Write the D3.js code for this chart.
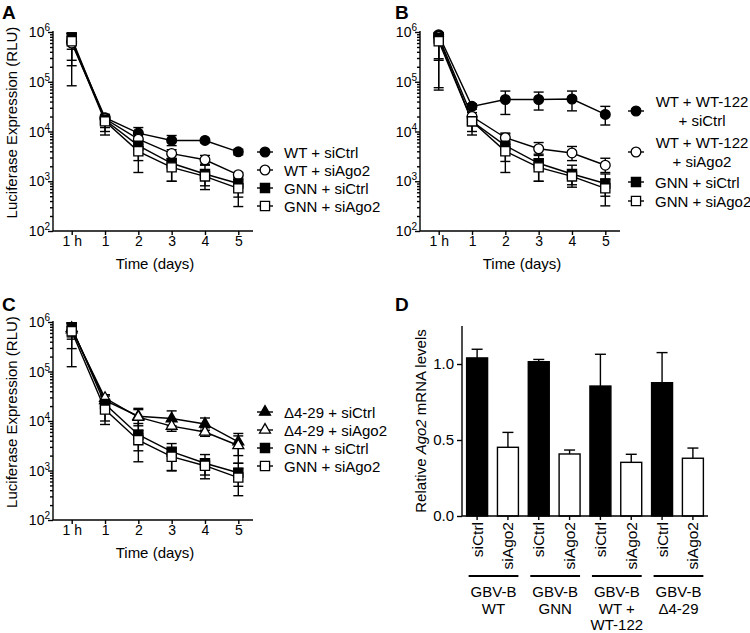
<!DOCTYPE html>
<html><head><meta charset="utf-8">
<script src="https://cdn.jsdelivr.net/npm/d3@7"></script>
<style>body{margin:0;background:#fff}</style>
</head><body><svg id="c" width="750" height="633" font-family="Liberation Sans, Arial, Helvetica, sans-serif"></svg>
<script>
// ---------- DATA ----------
const days = ["1 h", "1", "2", "3", "4", "5"];

// Panel A
const aWtSiCtrl    = [6.5e5, 1.9e4, 9.3e3, 6.6e3, 6.6e3, 3.9e3];
const aWtSiCtrlLo  = [4.5e5, 1.5e4, 7.0e3, 5.2e3, 6.0e3, 3.4e3];
const aWtSiCtrlHi  = [9.5e5, 2.2e4, 1.2e4, 8.3e3, 7.2e3, 4.4e3];
const aWtSiAgo2    = [6.0e5, 1.8e4, 7.0e3, 3.6e3, 2.7e3, 1.35e3];
const aWtSiAgo2Lo  = [8.3e4, 1.2e4, 5.0e3, 2.9e3, 2.2e3, 1.2e3];
const aWtSiAgo2Hi  = [9.5e5, 2.2e4, 9.0e3, 4.3e3, 3.3e3, 1.5e3];
const aGnnSiCtrl   = [7.5e5, 1.7e4, 5.2e3, 2.3e3, 1.4e3, 900];
const aGnnSiCtrlLo = [2.7e5, 8.5e3, 1.5e3, 1.0e3, 680, 480];
const aGnnSiCtrlHi = [9.5e5, 2.1e4, 8.9e3, 3.5e3, 2.1e3, 1.3e3];
const aGnnSiAgo2   = [6.5e5, 1.6e4, 4.0e3, 1.9e3, 1.25e3, 720];
const aGnnSiAgo2Lo = [2.1e5, 1.0e4, 2.6e3, 1.0e3, 810, 310];
const aGnnSiAgo2Hi = [9.5e5, 2.0e4, 5.5e3, 2.8e3, 1.7e3, 1.1e3];
const aLegend = ["WT + siCtrl", "WT + siAgo2", "GNN + siCtrl", "GNN + siAgo2"];

// Panel B
const bWtSiCtrl    = [8.8e5, 3.2e4, 4.4e4, 4.4e4, 4.5e4, 2.2e4];
const bWtSiCtrlLo  = [6.8e4, 2.8e4, 2.2e4, 2.7e4, 2.6e4, 1.35e4];
const bWtSiCtrlHi  = [9.8e5, 3.6e4, 6.5e4, 6.2e4, 6.5e4, 3.2e4];
const bWtSiAgo2    = [8.0e5, 2.0e4, 7.5e3, 4.5e3, 3.7e3, 2.1e3];
const bWtSiAgo2Lo  = [7.6e4, 1.6e4, 5.5e3, 3.3e3, 2.6e3, 1.5e3];
const bWtSiAgo2Hi  = [9.6e5, 2.4e4, 9.3e3, 6.0e3, 5.0e3, 2.9e3];
const bGnnSiCtrl   = [7.5e5, 1.6e4, 5.2e3, 2.3e3, 1.4e3, 900];
const bGnnSiCtrlLo = [2.7e5, 8.5e3, 1.5e3, 1.0e3, 760, 500];
const bGnnSiCtrlHi = [9.5e5, 2.0e4, 8.9e3, 3.5e3, 2.1e3, 1.4e3];
const bGnnSiAgo2   = [6.5e5, 1.6e4, 4.0e3, 1.9e3, 1.25e3, 720];
const bGnnSiAgo2Lo = [2.9e5, 1.0e4, 2.5e3, 1.0e3, 850, 320];
const bGnnSiAgo2Hi = [9.5e5, 2.0e4, 5.5e3, 2.8e3, 1.7e3, 1.1e3];
const bLegend = [["WT + WT-122", "+ siCtrl"], ["WT + WT-122", "+ siAgo2"], ["GNN + siCtrl"], ["GNN + siAgo2"]];

// Panel C
const cD429SiCtrl    = [7.5e5, 2.6e4, 1.25e4, 1.12e4, 8.7e3, 3.8e3];
const cD429SiCtrlLo  = [5.0e5, 2.0e4, 8.0e3, 8.0e3, 6.5e3, 2.0e3];
const cD429SiCtrlHi  = [9.5e5, 3.2e4, 1.8e4, 1.6e4, 1.15e4, 5.6e3];
const cD429SiAgo2    = [7.0e5, 2.9e4, 1.2e4, 7.9e3, 6.0e3, 3.2e3];
const cD429SiAgo2Lo  = [4.5e5, 2.4e4, 6.5e3, 6.2e3, 4.9e3, 1.4e3];
const cD429SiAgo2Hi  = [9.5e5, 3.4e4, 1.7e4, 1.0e4, 7.3e3, 5.0e3];
const cGnnSiCtrl     = [7.8e5, 2.2e4, 5.3e3, 2.4e3, 1.4e3, 900];
const cGnnSiCtrlLo   = [2.9e5, 1.0e4, 1.5e3, 1.0e3, 680, 480];
const cGnnSiCtrlHi   = [9.5e5, 2.6e4, 8.9e3, 3.5e3, 2.1e3, 1.4e3];
const cGnnSiAgo2     = [6.5e5, 1.7e4, 4.1e3, 1.9e3, 1.25e3, 720];
const cGnnSiAgo2Lo   = [1.25e5, 8.5e3, 2.5e3, 980, 810, 310];
const cGnnSiAgo2Hi   = [9.5e5, 2.1e4, 5.5e3, 2.8e3, 1.7e3, 1.1e3];
const cLegend = ["\u03944-29 + siCtrl", "\u03944-29 + siAgo2", "GNN + siCtrl", "GNN + siAgo2"];

// Panel D
const dConditions = ["siCtrl", "siAgo2", "siCtrl", "siAgo2", "siCtrl", "siAgo2", "siCtrl", "siAgo2"];
const dValues = [1.04, 0.452, 1.015, 0.408, 0.855, 0.353, 0.877, 0.38];
const dErrors = [0.057, 0.098, 0.015, 0.026, 0.209, 0.053, 0.198, 0.067];
const dGroups = [["GBV-B", "WT"], ["GBV-B", "GNN"], ["GBV-B", "WT +", "WT-122"], ["GBV-B", "\u03944-29"]];
const dYTicks = [0, 0.5, 1.0];

// ---------- DRAWING ----------
const svg = d3.select("#c");
const FONT_TICK = 14, FONT_LABEL = 15, SW = 1.4;

function marker(sel, shape, fill) {
  const sym = { circle: d3.symbolCircle, square: d3.symbolSquare, triangle: d3.symbolTriangle }[shape];
  const size = { circle: 74, square: 84, triangle: 52 }[shape];
  sel.append("path").attr("d", d3.symbol(sym, size)())
    .attr("fill", fill).attr("stroke", "#000").attr("stroke-width", 1.3);
}

function logPanel(P) {
  const g = svg.append("g");
  const x = d3.scalePoint().domain(days).range([P.x0 + 18.7, P.x0 + 185.3]);
  const y = d3.scaleLog().domain([1e2, 1e6]).range([P.yBot, P.yTop]);
  const majors = [1e2, 1e3, 1e4, 1e5, 1e6];
  const minors = [];
  [1e2, 1e3, 1e4, 1e5].forEach(d => { for (let k = 2; k <= 9; k++) minors.push(k * d); });

  g.append("g").attr("transform", `translate(${P.x0},0)`)
    .call(d3.axisLeft(y).tickValues(minors).tickSize(3).tickFormat(""))
    .call(a => a.select(".domain").remove());
  g.append("g").attr("transform", `translate(${P.x0},0)`)
    .call(d3.axisLeft(y).tickValues(majors).tickSize(5).tickFormat(""))
    .call(a => a.select(".domain").remove());
  g.selectAll(".tick line").attr("stroke-width", SW);
  const lab = g.append("g").selectAll("text").data(majors).join("text")
    .attr("x", P.x0 - 3).attr("y", d => y(d) + 5)
    .attr("text-anchor", "end").attr("font-size", FONT_TICK);
  lab.append("tspan").text("10");
  lab.append("tspan").attr("dy", -6).attr("font-size", 10).text(d => Math.round(Math.log10(d)));

  const xa = g.append("g").attr("transform", `translate(0,${P.yBot})`)
    .call(d3.axisBottom(x).tickSize(4).tickPadding(1).tickSizeOuter(0));
  xa.select(".domain").remove();
  xa.selectAll("text").attr("font-size", FONT_TICK).attr("font-family", null);
  xa.selectAll(".tick line").attr("stroke-width", SW);
  g.append("line").attr("x1", P.x0).attr("x2", P.x0).attr("y1", P.yTop - 1).attr("y2", P.yBot)
    .attr("stroke", "#000").attr("stroke-width", SW);
  g.append("line").attr("x1", P.x0).attr("x2", P.x0 + 200).attr("y1", P.yBot).attr("y2", P.yBot)
    .attr("stroke", "#000").attr("stroke-width", SW);

  g.append("text").attr("x", P.x0 + 102).attr("y", P.yBot + 38).attr("text-anchor", "middle")
    .attr("font-size", FONT_LABEL).text("Time (days)");
  if (P.ylabel) {
    g.append("text").attr("transform", `translate(${P.x0 - 36},${(P.yTop + P.yBot) / 2 - 9}) rotate(-90)`)
      .attr("text-anchor", "middle").attr("font-size", FONT_LABEL).text(P.ylabel);
  }

  const line = d3.line().x((d, i) => x(days[i])).y(d => y(d));
  P.series.forEach(s => {
    const eb = g.append("g").attr("stroke", "#000").attr("stroke-width", SW);
    s.values.forEach((v, i) => {
      const cx = x(days[i]);
      eb.append("line").attr("x1", cx).attr("x2", cx).attr("y1", y(s.lo[i])).attr("y2", y(s.hi[i]));
      eb.append("line").attr("x1", cx - 5).attr("x2", cx + 5).attr("y1", y(s.lo[i])).attr("y2", y(s.lo[i]));
      eb.append("line").attr("x1", cx - 5).attr("x2", cx + 5).attr("y1", y(s.hi[i])).attr("y2", y(s.hi[i]));
    });
  });
  P.series.forEach(s => {
    g.append("path").attr("d", line(s.values)).attr("fill", "none").attr("stroke", "#000").attr("stroke-width", SW);
  });
  P.series.forEach(s => {
    s.values.forEach((v, i) => {
      const m = g.append("g").attr("transform", `translate(${x(days[i])},${y(v)})`);
      marker(m, s.shape, s.fill);
    });
  });

  P.series.forEach((s, i) => {
    const L = P.legend[i];
    const lg = g.append("g").attr("transform", `translate(${L.x},${L.y})`);
    lg.append("line").attr("x1", -8).attr("x2", 8).attr("stroke", "#000").attr("stroke-width", SW);
    marker(lg, s.shape, s.fill);
    const lines = Array.isArray(s.label) ? s.label : [s.label];
    if (lines.length === 1) {
      lg.append("text").attr("x", L.tx).attr("y", 5.5).attr("font-size", FONT_LABEL).text(lines[0]);
    } else {
      lines.forEach((t, k) => lg.append("text").attr("x", L.tcx).attr("y", 5.5 + (k - 0.5) * 18.5)
        .attr("text-anchor", "middle").attr("font-size", FONT_LABEL).text(t));
    }
  });
}

const mk = (label, values, lo, hi, shape, fill) => ({ label, values, lo, hi, shape, fill });

logPanel({
  x0: 53, yTop: 32, yBot: 231, ylabel: "Luciferase Expression (RLU)",
  series: [
    mk(aLegend[0], aWtSiCtrl, aWtSiCtrlLo, aWtSiCtrlHi, "circle", "#000"),
    mk(aLegend[1], aWtSiAgo2, aWtSiAgo2Lo, aWtSiAgo2Hi, "circle", "#fff"),
    mk(aLegend[2], aGnnSiCtrl, aGnnSiCtrlLo, aGnnSiCtrlHi, "square", "#000"),
    mk(aLegend[3], aGnnSiAgo2, aGnnSiAgo2Lo, aGnnSiAgo2Hi, "square", "#fff")
  ],
  legend: [152, 170, 188, 206].map(yy => ({ x: 265, y: yy, tx: 19 }))
});

logPanel({
  x0: 420, yTop: 32, yBot: 231,
  series: [
    mk(bLegend[0], bWtSiCtrl, bWtSiCtrlLo, bWtSiCtrlHi, "circle", "#000"),
    mk(bLegend[1], bWtSiAgo2, bWtSiAgo2Lo, bWtSiAgo2Hi, "circle", "#fff"),
    mk(bLegend[2][0], bGnnSiCtrl, bGnnSiCtrlLo, bGnnSiCtrlHi, "square", "#000"),
    mk(bLegend[3][0], bGnnSiAgo2, bGnnSiAgo2Lo, bGnnSiAgo2Hi, "square", "#fff")
  ],
  legend: [111, 152, 182, 201].map(yy => ({ x: 636, y: yy, tx: 19, tcx: 66 }))
});

logPanel({
  x0: 53, yTop: 322, yBot: 520, ylabel: "Luciferase Expression (RLU)",
  series: [
    mk(cLegend[0], cD429SiCtrl, cD429SiCtrlLo, cD429SiCtrlHi, "triangle", "#000"),
    mk(cLegend[1], cD429SiAgo2, cD429SiAgo2Lo, cD429SiAgo2Hi, "triangle", "#fff"),
    mk(cLegend[2], cGnnSiCtrl, cGnnSiCtrlLo, cGnnSiCtrlHi, "square", "#000"),
    mk(cLegend[3], cGnnSiAgo2, cGnnSiAgo2Lo, cGnnSiAgo2Hi, "square", "#fff")
  ],
  legend: [412, 430, 448, 466].map(yy => ({ x: 265, y: yy, tx: 19 }))
});

// Panel D
(function () {
  const g = svg.append("g");
  const x = d3.scaleBand().domain(d3.range(dValues.length)).range([462, 708])
    .paddingInner(0.32).paddingOuter(0.15);
  const y = d3.scaleLinear().domain([0, 1.25]).range([516, 326]);
  const ya = g.append("g").attr("transform", "translate(462,0)")
    .call(d3.axisLeft(y).tickValues(dYTicks).tickSize(5).tickFormat(d3.format(".1f")));
  ya.select(".domain").remove();
  ya.selectAll("text").attr("font-size", 15).attr("font-family", null);
  ya.selectAll(".tick line").attr("stroke-width", SW);
  g.append("line").attr("x1", 462).attr("x2", 462).attr("y1", 326).attr("y2", 516).attr("stroke", "#000").attr("stroke-width", SW);

  dValues.forEach((v, i) => {
    const cx = x(i) + x.bandwidth() / 2;
    g.append("line").attr("x1", cx).attr("x2", cx).attr("y1", y(v)).attr("y2", y(v + dErrors[i])).attr("stroke", "#000").attr("stroke-width", SW);
    g.append("line").attr("x1", cx - 5.5).attr("x2", cx + 5.5).attr("y1", y(v + dErrors[i])).attr("y2", y(v + dErrors[i])).attr("stroke", "#000").attr("stroke-width", SW);
  });
  g.selectAll("rect.bar").data(dValues).join("rect").attr("class", "bar")
    .attr("x", (d, i) => x(i)).attr("width", x.bandwidth())
    .attr("y", d => y(d)).attr("height", d => y(0) - y(d))
    .attr("fill", (d, i) => i % 2 === 0 ? "#000" : "#fff")
    .attr("stroke", "#000").attr("stroke-width", SW);

  const xa = g.append("g").attr("transform", "translate(0,516)")
    .call(d3.axisBottom(x).tickSize(4).tickSizeOuter(0).tickFormat(i => dConditions[i]));
  xa.select(".domain").remove();
  xa.selectAll(".tick line").attr("stroke-width", SW);
  xa.selectAll("text").attr("font-size", 15.5).attr("font-family", null)
    .attr("transform", "rotate(-90)").attr("text-anchor", "end")
    .attr("x", -6).attr("y", 0).attr("dy", "0.35em");
  g.append("line").attr("x1", 462).attr("x2", 708).attr("y1", 516).attr("y2", 516).attr("stroke", "#000").attr("stroke-width", SW);

  dGroups.forEach((grp, k) => {
    const x1 = x(2 * k) + 2, x2 = x(2 * k + 1) + x.bandwidth();
    g.append("line").attr("x1", x1).attr("x2", x2).attr("y1", 576).attr("y2", 576).attr("stroke", "#000").attr("stroke-width", 2);
    grp.forEach((t, j) => g.append("text").attr("x", (x1 + x2) / 2).attr("y", 597 + j * 16.5)
      .attr("text-anchor", "middle").attr("font-size", 15).text(t));
  });

  const yl = g.append("text").attr("transform", "translate(426,421) rotate(-90)")
    .attr("text-anchor", "middle").attr("font-size", 15);
  yl.append("tspan").text("Relative ");
  yl.append("tspan").attr("font-style", "italic").text("Ago2");
  yl.append("tspan").text(" mRNA levels");
})();

[["A", 2, 19], ["B", 395, 19], ["C", 2, 311], ["D", 395, 311]].forEach(([t, px, py]) =>
  svg.append("text").attr("x", px).attr("y", py).attr("font-size", 19).attr("font-weight", "bold").text(t));
</script></body></html>
